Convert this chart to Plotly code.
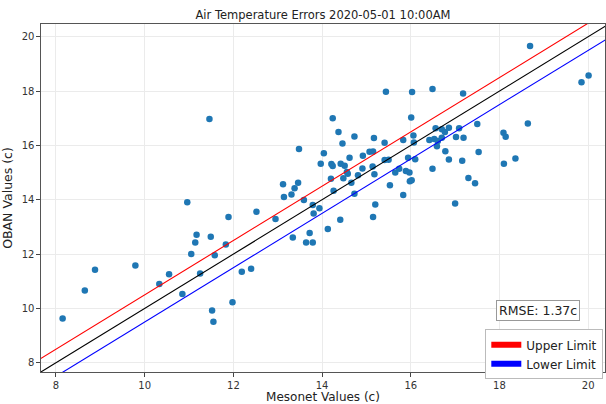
import plotly.graph_objects as go

title = "Air Temperature Errors 2020-05-01 10:00AM"
mesonet = [8.15, 8.65, 8.88, 9.79, 10.33, 10.55, 10.85, 10.96, 11.05, 11.14, 11.17, 11.25, 11.46, 11.49,
           11.52, 11.55, 11.58, 11.83, 11.89, 11.98, 12.19, 12.40, 12.52, 12.95, 13.12, 13.14, 13.31, 13.34,
           13.38, 13.46, 13.48, 13.59, 13.64, 13.72, 13.79, 13.79, 13.81, 13.94, 13.97, 14.04, 14.13, 14.20,
           14.21, 14.24, 14.24, 14.26, 14.37, 14.41, 14.42, 14.46, 14.48, 14.51, 14.56, 14.58, 14.62, 14.66,
           14.73, 14.73, 14.81, 14.91, 14.92, 15.07, 15.14, 15.15, 15.15, 15.17, 15.18, 15.20, 15.41, 15.41,
           15.44, 15.50, 15.53, 15.65, 15.74, 15.83, 15.83, 15.89, 15.94, 15.97, 15.98, 16.02, 16.01, 16.03,
           16.06, 16.07, 16.10, 16.42, 16.49, 16.49, 16.53, 16.56, 16.59, 16.61, 16.70, 16.70, 16.77, 16.78,
           16.86, 16.86, 17.00, 17.02, 17.09, 17.16, 17.18, 17.19, 17.30, 17.45, 17.50, 17.53, 18.09, 18.10,
           18.14, 18.36, 18.64, 18.69, 19.85, 20.01]
oban = [9.63, 10.66, 11.42, 11.58, 10.90, 11.26, 10.53, 13.91, 12.00, 12.43, 12.71, 11.29, 16.97, 12.64,
        9.92, 9.51, 11.96, 12.35, 13.37, 10.23, 11.35, 11.46, 13.56, 13.29, 14.57, 14.10, 14.19, 12.61,
        14.42, 14.63, 15.87, 13.99, 12.43, 12.78, 13.81, 12.43, 13.49, 13.69, 15.33, 15.71, 12.92, 14.77,
        15.32, 17.00, 15.24, 14.33, 16.49, 13.26, 15.33, 16.07, 14.79, 15.25, 15.02, 14.96, 15.55, 14.63,
        16.33, 14.22, 14.90, 15.15, 15.62, 15.77, 15.22, 15.78, 13.37, 16.27, 14.94, 13.83, 16.10, 15.46,
        17.98, 15.47, 14.53, 15.00, 15.14, 16.20, 14.18, 15.06, 15.55, 15.00, 14.68, 14.72, 17.03, 17.97,
        16.37, 16.11, 15.49, 16.20, 18.08, 15.14, 16.24, 16.63, 15.97, 16.16, 16.60, 16.28, 16.49, 15.79,
        16.65, 15.48, 13.86, 16.31, 16.63, 15.44, 17.91, 16.28, 14.80, 14.61, 16.79, 15.76, 16.47, 15.33,
        16.32, 15.52, 16.81, 19.66, 18.33, 18.57]
line_x = [7.0, 21.0]
upper_offset = 0.5
lower_offset = -0.5
rmse_text = "RMSE: 1.37c"

FONT = "DejaVu Sans"
fig = go.Figure()
fig.add_trace(go.Scatter(x=mesonet, y=oban, mode="markers", showlegend=False,
                         marker=dict(color="#1f77b4", size=6.5, line=dict(width=0))))
fig.add_trace(go.Scatter(x=line_x, y=[v + upper_offset for v in line_x], mode="lines",
                         line=dict(color="red", width=1.1), showlegend=False))
fig.add_trace(go.Scatter(x=line_x, y=line_x, mode="lines",
                         line=dict(color="black", width=1.1), showlegend=False))
fig.add_trace(go.Scatter(x=line_x, y=[v + lower_offset for v in line_x], mode="lines",
                         line=dict(color="blue", width=1.1), showlegend=False))
fig.add_trace(go.Scatter(x=[None], y=[None], mode="none", fill="toself", fillcolor="red",
                         name="Upper Limit"))
fig.add_trace(go.Scatter(x=[None], y=[None], mode="none", fill="toself", fillcolor="blue",
                         name="Lower Limit"))

axis_common = dict(showgrid=True, gridcolor="#ebebeb", gridwidth=1, ticks="outside", ticklen=3.5,
                   tickcolor="#444", tickfont=dict(family=FONT, size=10, color="#333"),
                   showline=True, linecolor="#555", linewidth=1.2, mirror=True, zeroline=False,
                   dtick=2)
fig.update_layout(
    width=606, height=404,
    margin=dict(l=41, r=0, t=24, b=29),
    paper_bgcolor="white", plot_bgcolor="white",
    title=dict(text=title, xref="paper", x=0.5, xanchor="center", y=0.963, yanchor="middle",
               font=dict(family=FONT, size=11.5, color="#222")),
    xaxis=dict(range=[7.662, 20.38], title=dict(text="Mesonet Values (c)", standoff=5,
               font=dict(family=FONT, size=12, color="#222")), **axis_common),
    yaxis=dict(range=[7.66, 20.47], title=dict(text="OBAN Values (c)", standoff=6,
               font=dict(family=FONT, size=12.5, color="#222")), **axis_common),
    legend=dict(x=0.997, y=0.1225, xanchor="right", yanchor="top", bgcolor="white",
                bordercolor="#bbb", borderwidth=1, font=dict(family=FONT, size=12, color="#222"),
                tracegroupgap=0, itemwidth=30),
    annotations=[dict(text=rmse_text, xref="paper", yref="paper", x=0.8805, y=0.178,
                      xanchor="center", yanchor="middle", showarrow=False,
                      font=dict(family=FONT, size=12.5, color="#222"), bgcolor="white",
                      bordercolor="#999", borderwidth=1, borderpad=2)],
)
fig.write_html("out.html")
